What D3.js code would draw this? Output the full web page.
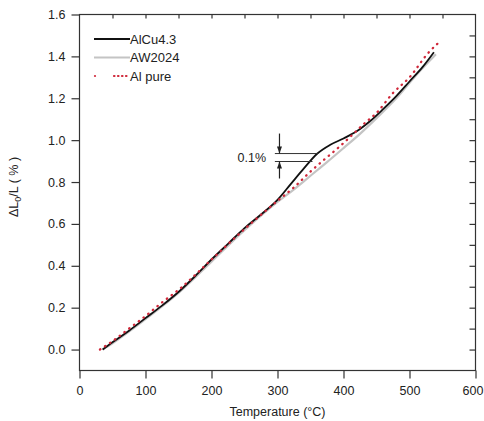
<!DOCTYPE html>
<html>
<head>
<meta charset="utf-8">
<script src="https://cdn.jsdelivr.net/npm/d3@7"></script>
<style>
  body { margin: 0; background: #fff; }
  text { font-family: "Liberation Sans", Arial, sans-serif; fill: #222; }
</style>
</head>
<body>
<script>
// Temperature (°C) and relative expansion dL0/L (%) for each alloy
var alcuT  = [35, 50, 75, 100, 125, 150, 175, 200, 225, 250, 275, 300, 320, 340, 360, 380, 400, 420, 440, 460, 480, 500, 520, 537];
var alcuDL = [0, 0.035, 0.09, 0.15, 0.21, 0.275, 0.35, 0.43, 0.505, 0.58, 0.645, 0.715, 0.79, 0.865, 0.935, 0.978, 1.008, 1.042, 1.09, 1.148, 1.21, 1.28, 1.35, 1.42];

var awT  = [35, 50, 100, 150, 200, 250, 300, 325, 350, 375, 400, 425, 450, 480, 510, 540];
var awDL = [0, 0.03, 0.145, 0.27, 0.42, 0.57, 0.705, 0.765, 0.83, 0.895, 0.962, 1.03, 1.105, 1.20, 1.31, 1.41];

var alT  = [31, 50, 75, 100, 125, 150, 200, 250, 300, 325, 350, 370, 390, 410, 430, 450, 475, 500, 528, 545];
var alDL = [0, 0.04, 0.1, 0.16, 0.225, 0.285, 0.43, 0.575, 0.71, 0.775, 0.85, 0.905, 0.958, 1.015, 1.075, 1.13, 1.225, 1.30, 1.415, 1.468];

var xTicks = [0, 100, 200, 300, 400, 500, 600];
var yTicks = [0.0, 0.2, 0.4, 0.6, 0.8, 1.0, 1.2, 1.4, 1.6];
var legendNames = ["AlCu4.3", "AW2024", "Al pure"];

var width = 484, height = 421;
var svg = d3.select("body").append("svg")
    .attr("width", width)
    .attr("height", height);

var x = d3.scaleLinear().domain([0, 600]).range([79.5, 475.5]);
var y = d3.scaleLinear().domain([-0.1, 1.6]).range([370.5, 14.5]);

// frame
svg.append("rect")
    .attr("x", x(0)).attr("y", y(1.6))
    .attr("width", x(600) - x(0)).attr("height", y(-0.1) - y(1.6))
    .attr("fill", "none").attr("stroke", "#333").attr("stroke-width", 1.2);

// bottom axis, ticks outside
var bottom = svg.append("g").attr("transform", "translate(0," + y(-0.1) + ")");
bottom.call(d3.axisBottom(x).tickValues(d3.range(50, 600, 100)).tickSize(4).tickFormat(""));
bottom.call(d3.axisBottom(x).tickValues(xTicks).tickSize(8).tickPadding(8).tickFormat(d3.format("d")));

// left axis, ticks outside
var left = svg.append("g").attr("transform", "translate(" + x(0) + ",0)");
left.call(d3.axisLeft(y).tickValues(d3.range(-0.1, 1.6, 0.2)).tickSize(4).tickFormat(""));
left.call(d3.axisLeft(y).tickValues(yTicks).tickSize(8).tickPadding(6).tickFormat(d3.format(".1f")));

// top and right axes, ticks inside
svg.append("g").attr("transform", "translate(0," + y(1.6) + ")")
    .call(d3.axisBottom(x).tickValues(d3.range(50, 600, 50)).tickSize(4).tickFormat(""));
svg.append("g").attr("transform", "translate(" + x(600) + ",0)")
    .call(d3.axisLeft(y).tickValues(d3.range(0, 1.6, 0.1)).tickSize(6).tickFormat(""));

svg.selectAll(".domain").remove();
svg.selectAll(".tick line").attr("stroke", "#333").attr("stroke-width", 1.2);
svg.selectAll(".tick text")
    .style("font-family", "'Liberation Sans', Arial, sans-serif")
    .style("font-size", "12.5px").attr("fill", "#222");
// keep the last x label inside the window
bottom.selectAll(".tick text").filter(function(d) { return d === 600; }).attr("dx", -3);

// axis titles
svg.append("text")
    .attr("x", (x(0) + x(600)) / 2).attr("y", 416)
    .attr("text-anchor", "middle").style("font-size", "12.5px")
    .text("Temperature (°C)");

var ylab = svg.append("text")
    .attr("transform", "translate(18,187) rotate(-90)")
    .attr("text-anchor", "middle").style("font-size", "12.5px");
ylab.append("tspan").text("\u0394L");
ylab.append("tspan").attr("dy", 3).style("font-size", "9px").text("0");
ylab.append("tspan").attr("dy", -3).text("/L ( % )");

// curves
var line = d3.line()
    .x(function(d) { return x(d[0]); })
    .y(function(d) { return y(d[1]); })
    .curve(d3.curveMonotoneX);

function pairs(ts, vs) { return ts.map(function(t, i) { return [t, vs[i]]; }); }

svg.append("path").datum(pairs(awT, awDL)).attr("d", line)
    .attr("fill", "none").attr("stroke", "#c4c4c4").attr("stroke-width", 2.2);
svg.append("path").datum(pairs(alcuT, alcuDL)).attr("d", line)
    .attr("fill", "none").attr("stroke", "#111").attr("stroke-width", 1.8);
svg.append("path").datum(pairs(alT, alDL)).attr("d", line)
    .attr("fill", "none").attr("stroke", "#d0283a").attr("stroke-width", 2.3)
    .attr("stroke-linecap", "round").attr("stroke-dasharray", "0.5,5.5");

// legend
var legend = svg.append("g");
var legendStyles = [
    { stroke: "#111", width: 1.8, dash: null },
    { stroke: "#c4c4c4", width: 2.2, dash: null },
    { stroke: "#d0283a", width: 2.2, dash: "0.5,3.5" }
];
legendNames.forEach(function(name, i) {
    var ly = 39 + i * 18.5;
    var s = legendStyles[i];
    var l = legend.append("line")
        .attr("x1", i == 2 ? 114 : 94).attr("x2", 130)
        .attr("y1", ly).attr("y2", ly)
        .attr("stroke", s.stroke).attr("stroke-width", s.width);
    if (s.dash) {
        l.attr("stroke-dasharray", s.dash).attr("stroke-linecap", "round");
        legend.append("circle").attr("cx", 95).attr("cy", ly).attr("r", 1.1).attr("fill", s.stroke);
    }
    legend.append("text")
        .attr("x", 130).attr("y", ly + 4.5)
        .style("font-size", "13px")
        .text(name);
});

// 0.1 % gap annotation
var gapHi = 0.936, gapLo = 0.898, arrowT = 303;
var ax = x(arrowT);
svg.append("line").attr("x1", x(296)).attr("x2", x(361))
    .attr("y1", y(gapHi)).attr("y2", y(gapHi)).attr("stroke", "#333").attr("stroke-width", 1);
svg.append("line").attr("x1", x(296)).attr("x2", x(353))
    .attr("y1", y(gapLo)).attr("y2", y(gapLo)).attr("stroke", "#333").attr("stroke-width", 1);
svg.append("line").attr("x1", ax).attr("x2", ax)
    .attr("y1", y(gapHi) - 20).attr("y2", y(gapHi)).attr("stroke", "#222").attr("stroke-width", 1.2);
svg.append("line").attr("x1", ax).attr("x2", ax)
    .attr("y1", y(gapLo)).attr("y2", y(gapLo) + 17).attr("stroke", "#222").attr("stroke-width", 1.2);
svg.append("path")
    .attr("d", "M" + (ax - 2.5) + "," + (y(gapHi) - 7) + "L" + (ax + 2.5) + "," + (y(gapHi) - 7) + "L" + ax + "," + y(gapHi) + "Z")
    .attr("fill", "#222");
svg.append("path")
    .attr("d", "M" + (ax - 2.5) + "," + (y(gapLo) + 7) + "L" + (ax + 2.5) + "," + (y(gapLo) + 7) + "L" + ax + "," + y(gapLo) + "Z")
    .attr("fill", "#222");
svg.append("text")
    .attr("x", 266).attr("y", y((gapHi + gapLo) / 2) + 4.5)
    .attr("text-anchor", "end").style("font-size", "12.5px")
    .text("0.1%");
</script>
</body>
</html>
